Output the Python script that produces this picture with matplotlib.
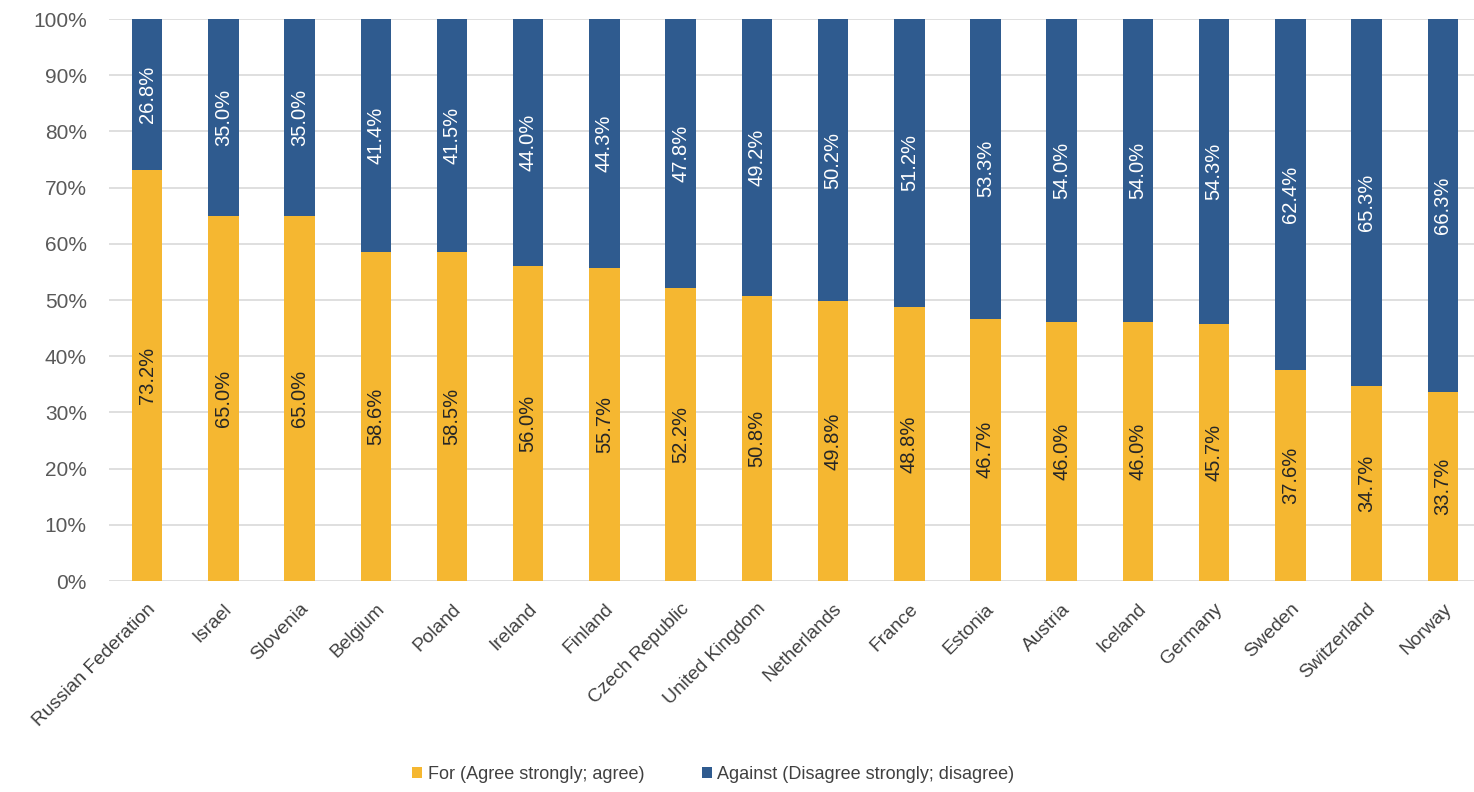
import matplotlib
matplotlib.use("Agg")
import matplotlib.pyplot as plt
import numpy as np

plt.rcParams['font.family'] = ['Liberation Sans', 'DejaVu Sans']

countries = ["Russian Federation", "Israel", "Slovenia", "Belgium", "Poland", "Ireland",
             "Finland", "Czech Republic", "United Kingdom", "Netherlands", "France",
             "Estonia", "Austria", "Iceland", "Germany", "Sweden", "Switzerland", "Norway"]
for_vals = [73.2, 65.0, 65.0, 58.6, 58.5, 56.0, 55.7, 52.2, 50.8, 49.8, 48.8,
            46.7, 46.0, 46.0, 45.7, 37.6, 34.7, 33.7]
against_vals = [26.8, 35.0, 35.0, 41.4, 41.5, 44.0, 44.3, 47.8, 49.2, 50.2, 51.2,
                53.3, 54.0, 54.0, 54.3, 62.4, 65.3, 66.3]
yticks = [0, 10, 20, 30, 40, 50, 60, 70, 80, 90, 100]

c_for = "#F5B731"
c_against = "#2F5B8F"

fig = plt.figure(figsize=(14.74, 7.92), dpi=100)
ax = fig.add_axes([0.074, 0.2664, 0.926, 0.7096])

x = np.arange(len(countries))
w = 0.40
ax.bar(x, for_vals, w, color=c_for, label="For (Agree strongly; agree)", zorder=3)
ax.bar(x, against_vals, w, bottom=for_vals, color=c_against,
       label="Against (Disagree strongly; disagree)", zorder=3)

for i in range(len(countries)):
    ax.text(x[i], for_vals[i] / 2, f"{for_vals[i]:.1f}%", rotation=90,
            ha="center", va="center", fontsize=14.5, color="#262626", zorder=4)
    ax.text(x[i], for_vals[i] + against_vals[i] / 2, f"{against_vals[i]:.1f}%", rotation=90,
            ha="center", va="center", fontsize=14.5, color="white", zorder=4)

ax.set_ylim(0, 100)
ax.set_xlim(-0.5, 17.41)
ax.set_yticks(yticks)
ax.set_yticklabels([f"{v}%" for v in yticks], fontsize=15, color="#595959")
ax.set_xticks(x)
ax.set_xticklabels(countries, rotation=45, ha="right", rotation_mode="anchor",
                   fontsize=13.8, color="#404040")
ax.tick_params(axis="y", length=0, pad=16)
ax.tick_params(axis="x", length=0, pad=14)
ax.yaxis.grid(True, color="#d9d9d9", linewidth=1.2, zorder=0)
for s in ax.spines.values():
    s.set_visible(False)

handles, labels = ax.get_legend_handles_labels()
fig.legend(handles, labels, loc="center", bbox_to_anchor=(0.484, 0.022), ncol=2,
           frameon=False, fontsize=13, handlelength=0.55, handleheight=0.55,
           handletextpad=0.3, columnspacing=3.2, labelcolor="#404040")

fig.savefig("out.png", dpi=100)
